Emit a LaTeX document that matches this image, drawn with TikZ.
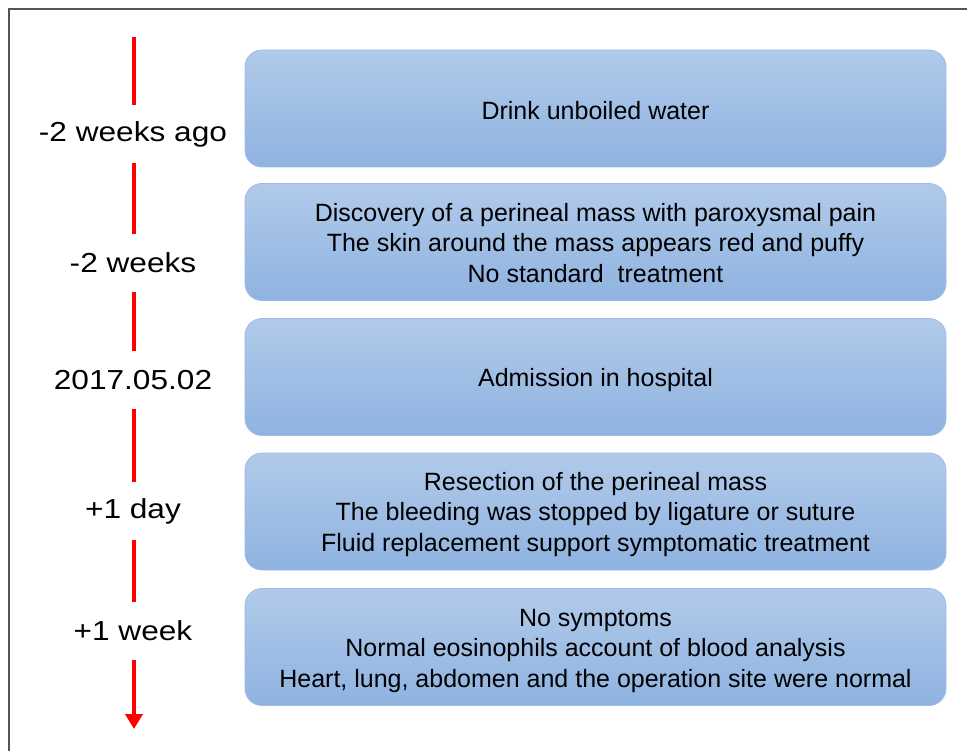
\documentclass[tikz,border=0pt]{standalone}
\usepackage{fontspec}
\setmainfont{Liberation Sans}
\usetikzlibrary{arrows.meta}
\definecolor{boxtop}{HTML}{B1CAEA}
\definecolor{boxbot}{HTML}{8FB3E0}
\definecolor{boxline}{HTML}{9DBCE3}
\definecolor{tlred}{HTML}{FF0000}
\definecolor{framegray}{HTML}{555555}
\tikzset{
  evbox/.style={rounded corners=17pt, top color=boxtop, bottom color=boxbot, draw=boxline, line width=0.8pt,
    minimum width=701pt, minimum height=117pt, inner sep=0pt},
  evtext/.style={align=center, inner sep=0pt, font=\fontsize{25}{30.5}\selectfont, text=black},
  tlabel/.style={minimum height=58pt, minimum width=60pt, inner sep=0pt,
    font=\fontsize{27.5}{32}\selectfont, text=black},
  tline/.style={draw=tlred, line width=4pt},
}
\begin{document}
\begin{tikzpicture}[x=1pt,y=-1pt]
\useasboundingbox (0,0) rectangle (967,751);
\fill[white] (0,0) rectangle (967,751);
\draw[framegray, line width=2pt] (8.5,751) -- (8.5,9.5) -- (967,9.5);

\node[evbox] (b1) at (595.5,108.5) {};
\node[evbox] (b2) at (595.5,242) {};
\node[evbox] (b3) at (595.5,377) {};
\node[evbox] (b4) at (595.5,511.5) {};
\node[evbox] (b5) at (595.5,647) {};

\node[evtext] (t1) at ([yshift=-2pt]b1.center) {Drink unboiled water};
\node[evtext] (t2) at ([yshift=-1pt]b2.center) {Discovery of a perineal mass with paroxysmal pain\\The skin around the mass appears red and puffy\\No standard\ \ treatment};
\node[evtext] (t3) at ([yshift=-3.5pt]b3.center) {Admission in hospital};
\node[evtext] (t4) at ([yshift=-3pt]b4.center) {Resection of the perineal mass\\The bleeding was stopped by ligature or suture\\Fluid replacement support symptomatic treatment};
\node[evtext] (t5) at ([yshift=-3.5pt]b5.center) {No symptoms\\Normal eosinophils account of blood analysis\\Heart, lung, abdomen and the operation site were normal};

\coordinate (top) at (134,37);
\coordinate (end) at (134,729);
\node[tlabel] (l1) at (133,134) {\scalebox{1.15}[1]{-2 weeks ago}};
\node[tlabel] (l2) at (133,263) {\scalebox{1.15}[1]{-2 weeks}};
\node[tlabel] (l3) at (133,380) {\scalebox{1.15}[1]{2017.05.02}};
\node[tlabel] (l4) at (133,511) {\scalebox{1.15}[1]{+1 day}};
\node[tlabel] (l5) at (133,631) {\scalebox{1.15}[1]{+1 week}};

\draw[tline] (top) -- (top|-l1.north);
\draw[tline] (top|-l1.south) -- (top|-l2.north);
\draw[tline] (top|-l2.south) -- (top|-l3.north);
\draw[tline] (top|-l3.south) -- (top|-l4.north);
\draw[tline] (top|-l4.south) -- (top|-l5.north);
\draw[tline, -{Triangle[width=17pt,length=15pt]}] (top|-l5.south) -- (end);
\end{tikzpicture}
\end{document}
